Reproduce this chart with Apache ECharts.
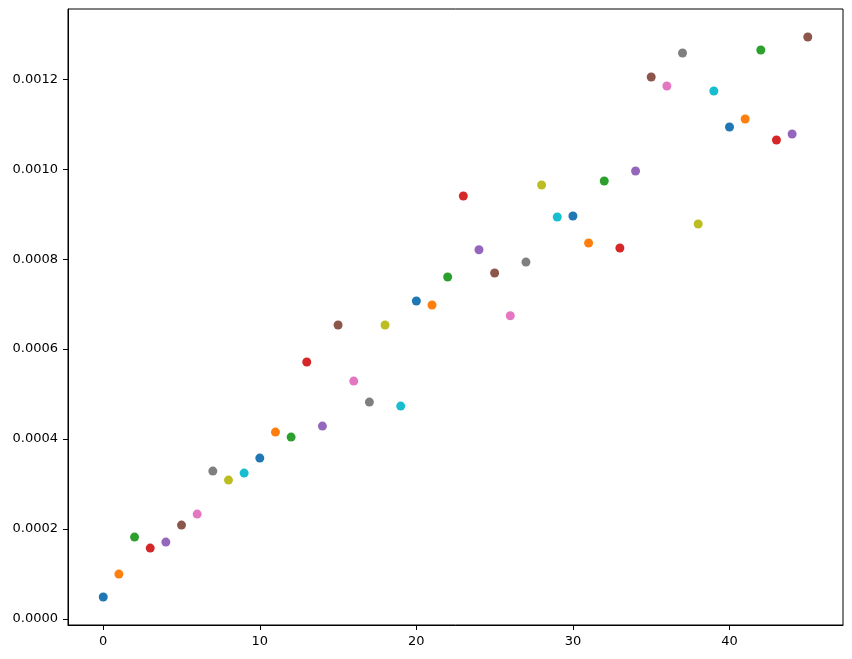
<!DOCTYPE html>
<html>
<head>
<meta charset="utf-8">
<script src="https://cdn.jsdelivr.net/npm/echarts@6/dist/echarts.min.js"></script>
<style>
html, body { margin: 0; padding: 0; background: #fff; }
#chart { width: 852px; height: 659px; }
</style>
</head>
<body>
<div id="chart"></div>
<script>
const xValues = [0,1,2,3,4,5,6,7,8,9,10,11,12,13,14,15,16,17,18,19,20,21,22,23,24,25,26,27,28,29,30,31,32,33,34,35,36,37,38,39,40,41,42,43,44,45];
const yValues = [
  0.0000485, 0.0000994, 0.0001818, 0.0001573, 0.0001706, 0.0002085, 0.0002329, 0.0003286, 0.0003086, 0.0003241,
  0.0003575, 0.0004153, 0.0004042, 0.0005711, 0.0004287, 0.0006534, 0.0005288, 0.0004821, 0.0006534, 0.0004732,
  0.0007068, 0.0006979, 0.0007602, 0.0009404, 0.0008209, 0.0007691, 0.0006741, 0.0007935, 0.0009648, 0.0008937,
  0.0008959, 0.0008358, 0.0009737, 0.0008247, 0.0009960, 0.0012051, 0.0011851, 0.0012585, 0.0008781, 0.0011740,
  0.0010939, 0.0011117, 0.0012652, 0.0010650, 0.0010783, 0.0012941
];
const colors = ['#1f77b4','#ff7f0e','#2ca02c','#d62728','#9467bd','#8c564b','#e377c2','#7f7f7f','#bcbd22','#17becf'];
const xTicks = [0, 10, 20, 30, 40];
const yTicks = [0, 0.0002, 0.0004, 0.0006, 0.0008, 0.0010, 0.0012];

const chart = echarts.init(document.getElementById('chart'), null, { renderer: 'canvas' });

const xMin = Math.min(...xValues), xMax = Math.max(...xValues);
const yMin = Math.min(...yValues), yMax = Math.max(...yValues);
const xPad = (xMax - xMin) * 0.05, yPad = (yMax - yMin) * 0.05;

const series = xValues.map((x, i) => ({
  type: 'scatter',
  data: [[x, yValues[i]]],
  symbolSize: 9,
  itemStyle: { color: colors[i % colors.length], opacity: 1 },
  silent: true
}));

const labelStyle = { color: '#000', fontFamily: 'DejaVu Sans', fontSize: 13 };

chart.setOption({
  animation: false,
  backgroundColor: '#fff',
  grid: {
    left: 68, right: 9, top: 9, bottom: 34,
    show: true, borderColor: '#000', borderWidth: 1, backgroundColor: 'transparent',
    containLabel: false
  },
  xAxis: {
    type: 'value',
    min: xMin - xPad, max: xMax + xPad,
    axisLine: { show: true, onZero: false, lineStyle: { color: '#000', width: 1 } },
    axisTick: { show: true, length: 5, lineStyle: { color: '#000' }, customValues: xTicks },
    axisLabel: Object.assign({ margin: 10, customValues: xTicks, formatter: v => String(Math.round(v)) }, labelStyle),
    splitLine: { show: false }
  },
  yAxis: {
    type: 'value',
    min: yMin - yPad, max: yMax + yPad,
    axisLine: { show: true, onZero: false, lineStyle: { color: '#000', width: 1 } },
    axisTick: { show: true, length: 5, lineStyle: { color: '#000' }, customValues: yTicks },
    axisLabel: Object.assign({ margin: 10, customValues: yTicks, formatter: v => v.toFixed(4) }, labelStyle),
    splitLine: { show: false }
  },
  series: series
});
</script>
</body>
</html>
